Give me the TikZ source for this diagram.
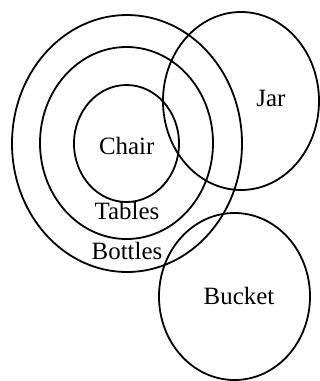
\documentclass[tikz,border=0pt]{standalone}
\usepackage{fontspec}
\setmainfont{Liberation Serif}
\usetikzlibrary{shapes.geometric}
\begin{document}
\begin{tikzpicture}[x=1bp,y=-1bp,
  setring/.style={draw=black, line width=1.8bp, ellipse, inner sep=0pt, outer sep=0pt},
  lbl/.style={font=\fontsize{25}{30}\selectfont, anchor=base, inner sep=0pt}]
\useasboundingbox (0,0) rectangle (320,381);
\node[setring, minimum width=230bp, minimum height=257bp] (bottles) at (127,143.5) {};
\node[setring, minimum width=173bp, minimum height=192bp] (tables) at (126.5,143) {};
\node[setring, minimum width=105bp, minimum height=117bp] (chair) at (126.5,143.5) {};
\node[setring, minimum width=156bp, minimum height=178bp] (jar) at (241,101) {};
\node[setring, minimum width=151bp, minimum height=167bp] (bucket) at (234.5,296.5) {};
\node[lbl] (tchair) at (126.7,154) {Chair};
\node[lbl] (ttables) at (127,219) {Tables};
\node[lbl] (tbottles) at (127,259) {Bottles};
\node[lbl] (tjar) at (271,106) {Jar};
\node[lbl] (tbucket) at (239,304) {Bucket};
\end{tikzpicture}
\end{document}
